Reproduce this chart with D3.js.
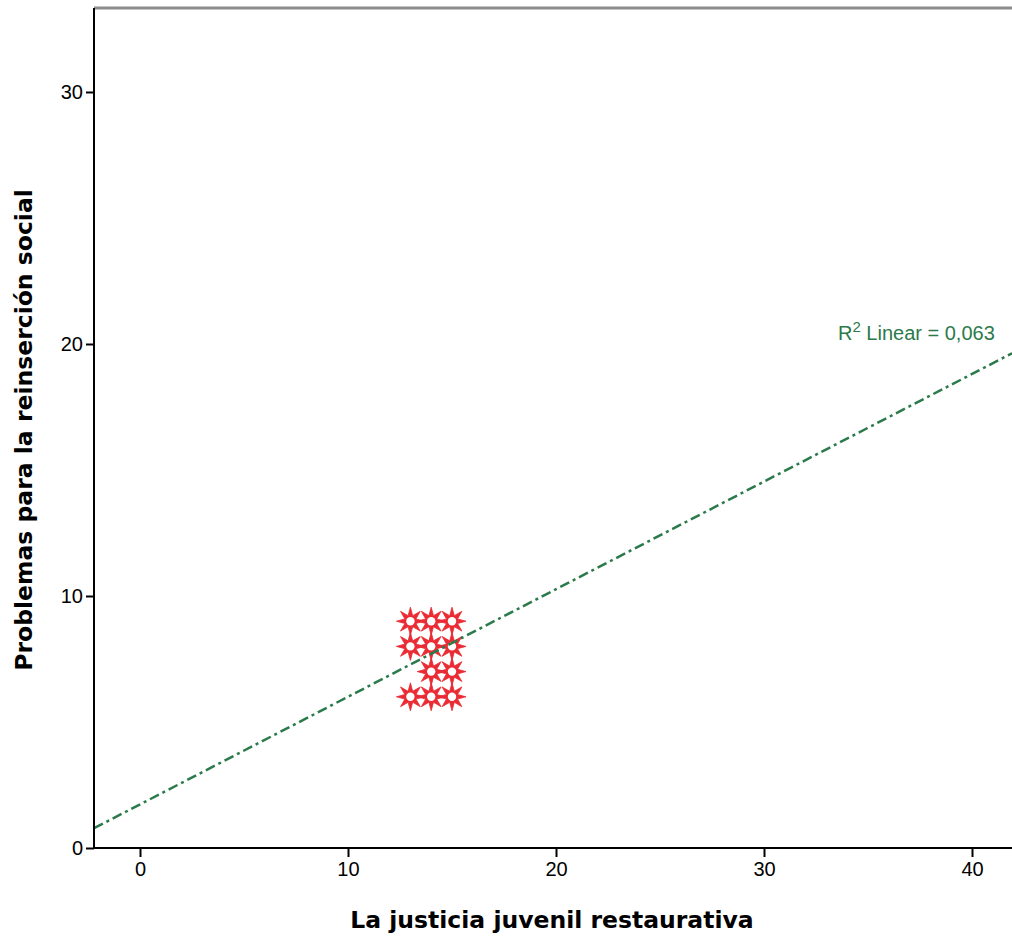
<!DOCTYPE html>
<html>
<head>
<meta charset="utf-8">
<script src="https://cdn.jsdelivr.net/npm/d3@7"></script>
<style>
  body { margin: 0; background: #fff; }
  svg { display: block; }
</style>
</head>
<body>
<script>
// Data
const xValues = [13, 14, 15, 13, 14, 15, 14, 15, 13, 14, 15];
const yValues = [9, 9, 9, 8, 8, 8, 7, 7, 6, 6, 6];
const xTicks = [0, 10, 20, 30, 40];
const yTicks = [0, 10, 20, 30];
const fitIntercept = 1.73;
const fitSlope = 0.427;
const fitLabel = "0,063";

const W = 1012, H = 942;
const plotLeft = 94, plotTop = 8, plotBottom = 848, plotRight = 1012;

const svg = d3.select("body").append("svg")
  .attr("width", W)
  .attr("height", H);

const x = d3.scaleLinear().domain([-2.2115, 41.923]).range([plotLeft, plotRight]);
const y = d3.scaleLinear().domain([0, 33.333]).range([plotBottom, plotTop]);

svg.append("defs").append("clipPath").attr("id", "plot")
  .append("rect").attr("x", plotLeft).attr("y", plotTop)
  .attr("width", plotRight - plotLeft).attr("height", plotBottom - plotTop);

// top border
svg.append("line")
  .attr("x1", plotLeft).attr("x2", plotRight).attr("y1", plotTop).attr("y2", plotTop)
  .attr("stroke", "#8c8c8c").attr("stroke-width", 3);

// star marker (8 points)
function starPath(ro, ri) {
  const pts = [];
  for (let i = 0; i < 16; i++) {
    const r = i % 2 === 0 ? ro : ri;
    const a = -Math.PI / 2 + i * Math.PI / 8;
    pts.push([r * Math.cos(a), r * Math.sin(a)]);
  }
  return "M" + pts.map(p => p[0].toFixed(2) + "," + p[1].toFixed(2)).join("L") + "Z";
}

const points = xValues.map((v, i) => ({ x: v, y: yValues[i] }));
const markers = svg.append("g").attr("clip-path", "url(#plot)");

markers.selectAll("path.star")
  .data(points)
  .enter()
  .append("path")
  .attr("class", "star")
  .attr("d", starPath(14, 6))
  .attr("transform", d => `translate(${x(d.x)},${y(d.y)})`)
  .attr("fill", "#ea2b33")
  .attr("stroke", "#ea2b33")
  .attr("stroke-width", 0.8)
  .attr("stroke-linejoin", "round");

// hollow centres
markers.selectAll("circle.hole")
  .data(points)
  .enter()
  .append("circle")
  .attr("class", "hole")
  .attr("cx", d => x(d.x))
  .attr("cy", d => y(d.y))
  .attr("r", 4.2)
  .attr("fill", "#fff");

// fit line
const [x0, x1] = x.domain();
svg.append("line")
  .attr("clip-path", "url(#plot)")
  .attr("x1", x(x0)).attr("y1", y(fitIntercept + fitSlope * x0))
  .attr("x2", x(x1)).attr("y2", y(fitIntercept + fitSlope * x1))
  .attr("stroke", "#2b7a4b")
  .attr("stroke-width", 2.5)
  .attr("stroke-dasharray", "10,4,3,4");

// R2 label
const r2 = svg.append("text")
  .attr("x", 838).attr("y", 340)
  .attr("font-family", "Liberation Sans, Arial, sans-serif")
  .attr("font-size", 20)
  .attr("fill", "#2b7a4b");
r2.append("tspan").text("R");
r2.append("tspan").attr("dy", -8).attr("font-size", 15).text("2");
r2.append("tspan").attr("dy", 8).text(" Linear = " + fitLabel);

// axes
const yAxis = svg.append("g")
  .attr("transform", `translate(${plotLeft},0)`)
  .call(d3.axisLeft(y).tickValues(yTicks).tickFormat(d3.format("d")).tickSize(8).tickPadding(3));
const xAxis = svg.append("g")
  .attr("transform", `translate(0,${plotBottom})`)
  .call(d3.axisBottom(x).tickValues(xTicks).tickFormat(d3.format("d")).tickSize(9).tickPadding(5));

[xAxis, yAxis].forEach(g => {
  g.select(".domain").attr("stroke", "#000").attr("stroke-width", 2);
  g.selectAll(".tick line").attr("stroke", "#000").attr("stroke-width", 2);
  g.selectAll(".tick text")
    .attr("font-family", "Liberation Sans, Arial, sans-serif")
    .attr("font-size", 20)
    .attr("fill", "#000");
});
yAxis.select(".domain").attr("d", `M0,${plotTop}V${plotBottom}`);
xAxis.select(".domain").attr("d", `M${plotLeft},0H${plotRight}`);

// axis titles
svg.append("text")
  .attr("x", 552).attr("y", 928)
  .attr("text-anchor", "middle")
  .attr("font-family", "DejaVu Sans, Verdana, sans-serif")
  .attr("font-weight", "bold")
  .attr("font-size", 23.5)
  .text("La justicia juvenil restaurativa");

svg.append("text")
  .attr("transform", "translate(32,430) rotate(-90)")
  .attr("text-anchor", "middle")
  .attr("font-family", "DejaVu Sans, Verdana, sans-serif")
  .attr("font-weight", "bold")
  .attr("font-size", 23.5)
  .text("Problemas para la reinserción social");
</script>
</body>
</html>
